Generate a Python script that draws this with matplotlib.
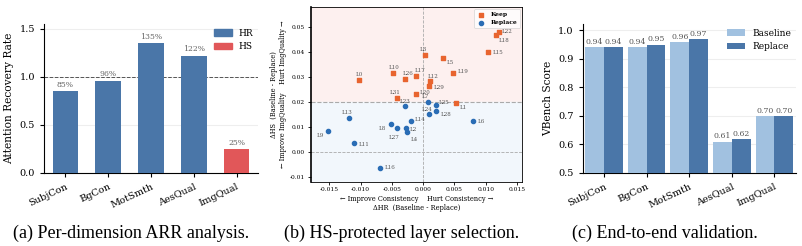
import matplotlib
matplotlib.use("Agg")
import matplotlib.pyplot as plt
import numpy as np
from matplotlib.patches import Patch

plt.rcParams['font.family'] = ['DejaVu Serif']
plt.rcParams['mathtext.fontset'] = 'dejavuserif'

# ---------------- data ----------------
dims = ["SubjCon", "BgCon", "MotSmth", "AesQual", "ImgQual"]
arr_values = [0.85, 0.96, 1.35, 1.22, 0.25]
arr_labels = ["85%", "96%", "135%", "122%", "25%"]
arr_groups = ["HR", "HR", "HR", "HR", "HS"]

keep_layers = ["L0", "L10", "L26", "L17", "L3", "L5", "L12", "L29", "L19", "L15",
               "L22", "L18", "L31", "L20", "L1"]
keep_dhr = [-0.0103, -0.0049, -0.0029, -0.0011, 0.0003, 0.0031, 0.0011, 0.0010,
            0.0048, 0.0104, 0.0121, 0.0116, -0.0042, -0.0012, 0.0052]
keep_dhs = [0.0288, 0.0317, 0.0291, 0.0305, 0.0387, 0.0375, 0.0285, 0.0263,
            0.0315, 0.0399, 0.0479, 0.0470, 0.0217, 0.0232, 0.0194]

rep_layers = ["L23", "L7", "L25", "L24", "L28", "L6", "L13", "L9", "L11", "L8",
              "L27", "L2", "L4", "L14", "L16"]
rep_dhr = [-0.0029, 0.0007, 0.0020, 0.0009, 0.0021, 0.0080, -0.0119, -0.0153,
           -0.0110, -0.0052, -0.0042, -0.0028, -0.0026, -0.0020, -0.0069]
rep_dhs = [0.0185, 0.0198, 0.0186, 0.0153, 0.0165, 0.0123, 0.0135, 0.0082,
           0.0036, 0.0112, 0.0096, 0.0096, 0.0078, 0.0125, -0.0064]
hs_threshold = 0.02

baseline_scores = [0.94, 0.94, 0.96, 0.61, 0.70]
replace_scores = [0.94, 0.95, 0.97, 0.62, 0.70]

# label offsets (points) for scatter annotations
label_offsets = {
    "L0": (-2, 4), "L10": (-3, 4), "L26": (-2, 4), "L17": (-1, 4), "L3": (-4, 4),
    "L5": (3, -3), "L12": (-2, 3), "L29": (3, -1), "L19": (3, 1), "L15": (3, 0),
    "L22": (2, 1), "L18": (2, -4), "L31": (-5, 4), "L20": (3, 1), "L1": (3, -3),
    "L23": (-4, 3), "L7": (-4, 4), "L25": (2, 2), "L24": (-5, 3), "L28": (3, -3),
    "L6": (3, 0), "L13": (-5, 4), "L9": (-8, -3), "L11": (3, -1), "L8": (-9, -3),
    "L27": (-6, -7), "L2": (3, -1), "L4": (3, -5), "L14": (3, 1), "L16": (3, 0),
}

# ---------------- styles ----------------
c_hr = "#4a76a8"
c_hs = "#e15759"
c_keep = "#e8642f"
c_rep = "#2a6db5"
c_base = "#a1c1e0"
c_repl = "#4a76a8"

W, H = 802, 246
fig = plt.figure(figsize=(W / 100, H / 100), dpi=100)

def ax_px(l, r, t, b):
    return fig.add_axes([l / W, (H - b) / H, (r - l) / W, (b - t) / H])

tick_fs = 7
lab_fs = 7.7
val_fs = 5.6
leg_fs = 6.5

# ---------------- panel (a) ----------------
ax1 = ax_px(44, 258, 24, 173)
x = np.arange(len(dims))
colors = [c_hr if g == "HR" else c_hs for g in arr_groups]
ax1.bar(x, arr_values, width=0.6, color=colors, zorder=3)
for xi, v, lab in zip(x, arr_values, arr_labels):
    ax1.text(xi, v + 0.025, lab, ha="center", va="bottom", fontsize=val_fs, color="#666666")
ax1.axhline(1.0, color="#555555", ls="--", lw=0.7, zorder=2)
ax1.set_xlim(-0.5, 4.5)
ax1.set_ylim(0, 1.55)
ax1.set_yticks([0.0, 0.5, 1.0, 1.5])
ax1.set_xticks(x)
ax1.set_xticklabels(dims, rotation=25, ha="right", rotation_mode="anchor", fontsize=tick_fs)
ax1.tick_params(axis="y", labelsize=tick_fs)
ax1.tick_params(length=3, width=0.8)
ax1.set_ylabel("Attention Recovery Rate", fontsize=lab_fs, labelpad=4)
ax1.yaxis.grid(True, color="#eeeeee", lw=0.8, zorder=0)
ax1.set_axisbelow(True)
for s in ["top", "right"]:
    ax1.spines[s].set_visible(False)
ax1.legend(handles=[Patch(color=c_hr, label="HR"), Patch(color=c_hs, label="HS")],
           loc="upper right", frameon=False, fontsize=leg_fs, handlelength=2.0,
           borderaxespad=0.1)

# ---------------- panel (b) ----------------
ax2 = ax_px(310.7, 522, 7.3, 181.7)
xlim = (-0.018, 0.0158)
ylim = (-0.012, 0.058)
ax2.axhspan(hs_threshold, ylim[1], color="#fdf0ef", zorder=0)
ax2.axhspan(ylim[0], hs_threshold, color="#f2f7fc", zorder=0)
ax2.axhline(hs_threshold, color="#aaaaaa", ls="--", lw=0.8, zorder=1)
ax2.axhline(0, color="#aaaaaa", ls="--", lw=0.6, zorder=1)
ax2.axvline(0, color="#aaaaaa", ls="--", lw=0.6, zorder=1)
ax2.scatter(keep_dhr, keep_dhs, marker="s", s=9, color=c_keep, label="Keep", zorder=3)
ax2.scatter(rep_dhr, rep_dhs, marker="o", s=9, color=c_rep, label="Replace", zorder=3)
for names, xs, ys in [(keep_layers, keep_dhr, keep_dhs), (rep_layers, rep_dhr, rep_dhs)]:
    for n, xv, yv in zip(names, xs, ys):
        ax2.annotate(n, (xv, yv), xytext=label_offsets.get(n, (3, 0)),
                     textcoords="offset points", fontsize=4, color="#555555",
                     ha="left", va="center")
ax2.set_xlim(*xlim)
ax2.set_ylim(*ylim)
ax2.set_xticks([-0.015, -0.010, -0.005, 0.0, 0.005, 0.010, 0.015])
ax2.set_yticks([-0.01, 0.0, 0.01, 0.02, 0.03, 0.04, 0.05])
ax2.xaxis.set_major_formatter(matplotlib.ticker.FormatStrFormatter("%.3f"))
ax2.yaxis.set_major_formatter(matplotlib.ticker.FormatStrFormatter("%.2f"))
ax2.tick_params(labelsize=4.3, length=2, width=0.6, pad=2)
ax2.set_xlabel("\u2190 Improve Consistency    Hurt Consistency \u2192\n\u0394HR  (Baseline - Replace)",
               fontsize=4.8, labelpad=2)
ax2.set_ylabel("\u0394HS  (Baseline - Replace)\n\u2190 Improve ImgQuality    Hurt ImgQuality \u2192",
               fontsize=4.8, labelpad=2)
for s in ax2.spines.values():
    s.set_linewidth(0.6)
ax2.spines["left"].set_linewidth(1.2)
leg = ax2.legend(loc="upper right", frameon=True, markerscale=1.0,
                 prop={"weight": "bold", "size": 4.3}, borderpad=0.5,
                 handletextpad=1.0, labelspacing=0.45, borderaxespad=0.3,
                 handlelength=1.2)
leg.get_frame().set_linewidth(0.5)

# ---------------- panel (c) ----------------
ax3 = ax_px(582.7, 795.7, 24, 173)
w = 0.44
ax3.bar(x - w / 2, baseline_scores, width=w, color=c_base, label="Baseline", zorder=3)
ax3.bar(x + w / 2, replace_scores, width=w, color=c_repl, label="Replace", zorder=3)
for xi, v in zip(x, baseline_scores):
    ax3.text(xi - w / 2, v + 0.004, f"{v:.2f}", ha="center", va="bottom", fontsize=val_fs, color="#555555")
for xi, v in zip(x, replace_scores):
    ax3.text(xi + w / 2, v + 0.004, f"{v:.2f}", ha="center", va="bottom", fontsize=val_fs, color="#555555")
ax3.set_xlim(-0.5, 4.5)
ax3.set_ylim(0.5, 1.022)
ax3.set_yticks([0.5, 0.6, 0.7, 0.8, 0.9, 1.0])
ax3.set_xticks(x)
ax3.set_xticklabels(dims, rotation=25, ha="right", rotation_mode="anchor", fontsize=tick_fs)
ax3.tick_params(axis="y", labelsize=tick_fs)
ax3.tick_params(length=3, width=0.8)
ax3.set_ylabel("VBench Score", fontsize=lab_fs, labelpad=4)
ax3.yaxis.grid(True, color="#eeeeee", lw=0.8, zorder=0)
ax3.set_axisbelow(True)
for s in ["top", "right"]:
    ax3.spines[s].set_visible(False)
ax3.legend(loc="upper right", frameon=False, fontsize=leg_fs, handlelength=2.0, borderaxespad=0.1)

# ---------------- captions ----------------
cap_kw = dict(ha="center", va="center", fontsize=13, family="Liberation Serif")
fig.text(131 / W, 1 - 233 / H, "(a) Per-dimension ARR analysis.", **cap_kw)
fig.text(402 / W, 1 - 233 / H, "(b) HS-protected layer selection.", **cap_kw)
fig.text(665 / W, 1 - 233 / H, "(c) End-to-end validation.", **cap_kw)

fig.savefig("out.png", dpi=100)
